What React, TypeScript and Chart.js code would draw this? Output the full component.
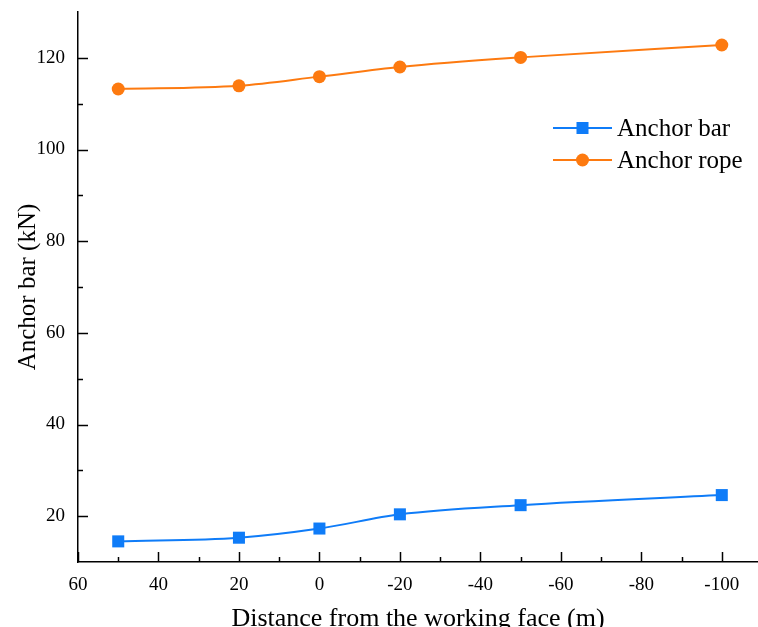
import React, { useEffect, useRef } from 'react';
import { Chart, registerables } from 'chart.js';

Chart.register(...registerables);

const distances = [50, 20, 0, -20, -50, -100];
const anchorBar = [14.5, 15.3, 17.3, 20.4, 22.4, 24.6];
const anchorRope = [113.2, 113.9, 115.9, 118.0, 120.1, 122.8];
const seriesNames = ['Anchor bar', 'Anchor rope'];
const xMajorTicks = [60, 40, 20, 0, -20, -40, -60, -80, -100];
const xMinorTicks = [50, 30, 10, -10, -30, -50, -70, -90];
const yMajorTicks = [20, 40, 60, 80, 100, 120];
const yMinorTicks = [30, 50, 70, 90, 110];

const BLUE = '#0f7cf8';
const ORANGE = '#fd7a10';
const FONT = "'Liberation Serif', 'Times New Roman', serif";

const inwardTicks = {
  id: 'inwardTicks',
  afterDatasetsDraw(chart: any) {
    const { ctx, chartArea, scales } = chart;
    const x = scales.x;
    const y = scales.y;
    ctx.save();
    ctx.strokeStyle = '#000';
    ctx.lineWidth = 1.5;
    const drawX = (v: number, len: number) => {
      const px = Math.round(x.getPixelForValue(v)) + 0.5;
      ctx.beginPath();
      ctx.moveTo(px, chartArea.bottom);
      ctx.lineTo(px, chartArea.bottom - len);
      ctx.stroke();
    };
    const drawY = (v: number, len: number) => {
      const py = Math.round(y.getPixelForValue(v)) + 0.5;
      ctx.beginPath();
      ctx.moveTo(chartArea.left, py);
      ctx.lineTo(chartArea.left + len, py);
      ctx.stroke();
    };
    xMajorTicks.forEach((v) => drawX(v, 10));
    xMinorTicks.forEach((v) => drawX(v, 5));
    yMajorTicks.forEach((v) => drawY(v, 10));
    yMinorTicks.forEach((v) => drawY(v, 5));
    ctx.restore();
  },
};

const innerLegend = {
  id: 'innerLegend',
  afterDraw(chart: any) {
    const { ctx, chartArea } = chart;
    const x0 = chartArea.right - 205;
    const x1 = chartArea.right - 146;
    const xm = (x0 + x1) / 2;
    const tx = chartArea.right - 141;
    const rows = [chartArea.top + 116, chartArea.top + 148];
    const colors = [BLUE, ORANGE];
    ctx.save();
    rows.forEach((ry, i) => {
      ctx.strokeStyle = colors[i];
      ctx.lineWidth = 2;
      ctx.beginPath();
      ctx.moveTo(x0, ry);
      ctx.lineTo(x1, ry);
      ctx.stroke();
      ctx.fillStyle = colors[i];
      if (i === 0) {
        ctx.fillRect(xm - 6, ry - 6, 12, 12);
      } else {
        ctx.beginPath();
        ctx.arc(xm, ry, 6.5, 0, Math.PI * 2);
        ctx.fill();
      }
      ctx.fillStyle = '#000';
      ctx.font = `25px ${FONT}`;
      ctx.textBaseline = 'middle';
      ctx.textAlign = 'left';
      ctx.fillText(seriesNames[i], tx, ry + 1);
    });
    ctx.restore();
  },
};

const zeroPadding = (scale: any) => {
  scale.paddingTop = 0;
  scale.paddingBottom = 0;
  scale.paddingLeft = 0;
  scale.paddingRight = 0;
};

export default function App() {
  const ref = useRef<HTMLCanvasElement>(null);
  useEffect(() => {
    if (!ref.current) return;
    const chart = new Chart(ref.current, {
      type: 'line',
      data: {
        datasets: [
          {
            label: seriesNames[0],
            data: distances.map((d, i) => ({ x: d, y: anchorBar[i] })),
            borderColor: BLUE,
            backgroundColor: BLUE,
            borderWidth: 2,
            pointStyle: 'rect',
            pointRadius: 8.5,
            pointBorderWidth: 0,
            cubicInterpolationMode: 'monotone',
          },
          {
            label: seriesNames[1],
            data: distances.map((d, i) => ({ x: d, y: anchorRope[i] })),
            borderColor: ORANGE,
            backgroundColor: ORANGE,
            borderWidth: 2,
            pointStyle: 'circle',
            pointRadius: 6.5,
            pointBorderWidth: 0,
            cubicInterpolationMode: 'monotone',
          },
        ],
      },
      options: {
        animation: false,
        responsive: false,
        layout: { autoPadding: false, padding: { top: 12, left: 0, right: 0, bottom: 0 } },
        plugins: { legend: { display: false }, tooltip: { enabled: false } },
        scales: {
          x: {
            type: 'linear',
            reverse: true,
            min: -109,
            max: 60,
            grid: { display: false, drawTicks: false },
            border: { display: true, color: '#000', width: 1.5 },
            afterBuildTicks: (scale: any) => {
              scale.ticks = xMajorTicks.map((v) => ({ value: v }));
            },
            afterFit: (scale: any) => {
              scale.height = 65;
              zeroPadding(scale);
            },
            ticks: {
              autoSkip: false,
              maxRotation: 0,
              padding: 12,
              color: '#000',
              font: { family: FONT, size: 19 },
            },
            title: {
              display: true,
              text: 'Distance from the working face (m)',
              color: '#000',
              font: { family: FONT, size: 26 },
              padding: { top: 0, bottom: -8 },
            },
          },
          y: {
            type: 'linear',
            min: 10,
            max: 130,
            grid: { display: false, drawTicks: false },
            border: { display: true, color: '#000', width: 1.5 },
            afterBuildTicks: (scale: any) => {
              scale.ticks = yMajorTicks.map((v) => ({ value: v }));
            },
            afterFit: (scale: any) => {
              scale.width = 78;
              zeroPadding(scale);
            },
            ticks: {
              autoSkip: false,
              padding: 13,
              color: '#000',
              font: { family: FONT, size: 19 },
            },
            title: {
              display: true,
              text: 'Anchor bar (kN)',
              color: '#000',
              font: { family: FONT, size: 25 },
              padding: { top: 13, bottom: 0 },
            },
          },
        },
      },
      plugins: [inwardTicks, innerLegend],
    } as any);
    return () => chart.destroy();
  }, []);
  return (
    <div style={{ position: 'fixed', left: 0, top: 0, width: 758, height: 627, background: '#fff' }}>
      <canvas ref={ref} width={758} height={627} style={{ display: 'block' }} />
    </div>
  );
}
